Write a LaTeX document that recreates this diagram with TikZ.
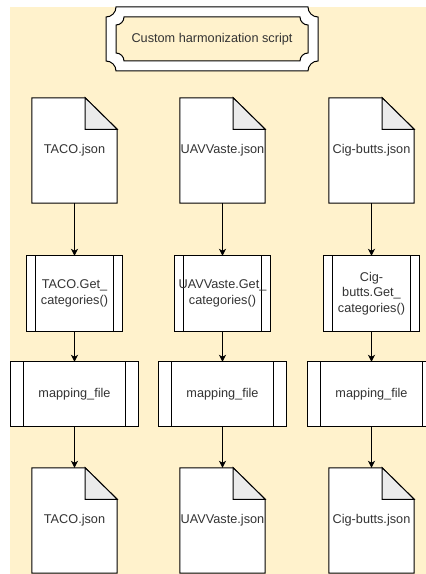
\documentclass[tikz,border=0pt]{standalone}
\usepackage{fontspec}
\setmainfont{Liberation Sans}
\usetikzlibrary{arrows.meta}
\definecolor{cream}{HTML}{FFF2CC}
\definecolor{foldgray}{HTML}{EBEBEB}
\definecolor{txt}{HTML}{333333}
\pgfdeclarelayer{bgfill}
\pgfdeclarelayer{shapes}
\pgfsetlayers{bgfill,shapes,main}

\tikzset{
  base/.style={font=\fontsize{12.7}{15.5}\selectfont, text=txt, align=center, inner sep=0pt},
  docnode/.style={base, minimum width=85pt, minimum height=105pt},
  procnode/.style={base, minimum width=96pt, minimum height=75pt},
  mapnode/.style={base, minimum width=127pt, minimum height=64pt},
  outline/.style={draw=black, line width=1pt},
  flow/.style={outline, -{Stealth[length=7pt,width=7pt,inset=2pt]}},
}

% document sheet with a folded top-right corner
\newcommand\docsheet[1]{%
  \filldraw[outline, fill=white] (#1.north west) -- ([xshift=-32pt]#1.north east)
    -- ([yshift=-31.5pt]#1.north east) -- (#1.south east) -- (#1.south west) -- cycle;
  \filldraw[outline, fill=foldgray] ([xshift=-32pt]#1.north east)
    -- ([xshift=-32pt,yshift=-31.5pt]#1.north east) -- ([yshift=-31.5pt]#1.north east) -- cycle;}

% predefined-process box with two side bars
\newcommand\procbox[2]{%
  \filldraw[outline, fill=white] (#1.south west) rectangle (#1.north east);
  \draw[outline] ([xshift=#2]#1.south west) -- ([xshift=#2]#1.north west);
  \draw[outline] ([xshift=-#2]#1.south east) -- ([xshift=-#2]#1.north east);}

\begin{document}
\begin{tikzpicture}[x=1pt,y=1pt]
\useasboundingbox (0,0) rectangle (426,574);

% title plaque
\node[base] (title) at (212,535) {Custom harmonization script};

% input files
\node[docnode] (src1) at (74.5,423.5) {TACO.json};
\node[docnode] (src2) at (222.5,423.5) {UAVVaste.json};
\node[docnode] (src3) at (371.5,423.5) {Cig-butts.json};

% category readers
\node[procnode] (get1) at (74.5,280.5) {TACO.Get\_\\categories()};
\node[procnode] (get2) at (222.5,280.5) {UAVVaste.Get\_\\categories()};
\node[procnode] (get3) at (371.5,280.5) {Cig-\\butts.Get\_\\categories()};

% mapping steps
\node[mapnode] (map1) at (74.5,180) {mapping\_file};
\node[mapnode] (map2) at (222.5,180) {mapping\_file};
\node[mapnode] (map3) at (371.5,180) {mapping\_file};

% output files
\node[docnode] (out1) at (74.5,53.5) {TACO.json};
\node[docnode] (out2) at (222.5,53.5) {UAVVaste.json};
\node[docnode] (out3) at (371.5,53.5) {Cig-butts.json};

\begin{pgfonlayer}{bgfill}
  \fill[cream] (10,0) rectangle (426,567);
\end{pgfonlayer}

\begin{pgfonlayer}{shapes}
  \clip (0,0) rectangle (426,574);
  % plaque: outer white frame and inner cream panel with concave corners
  \filldraw[outline, fill=white] (116,567) -- (308,567) arc[start angle=180, end angle=270, radius=10]
    -- (318,513) arc[start angle=90, end angle=180, radius=10]
    -- (116,503) arc[start angle=0, end angle=90, radius=10]
    -- (106,557) arc[start angle=270, end angle=360, radius=10] -- cycle;
  \filldraw[outline, fill=cream] (124,557) -- (300,557) arc[start angle=180, end angle=270, radius=8]
    -- (308,521) arc[start angle=90, end angle=180, radius=8]
    -- (124,513) arc[start angle=0, end angle=90, radius=8]
    -- (116,549) arc[start angle=270, end angle=360, radius=8] -- cycle;
  \foreach \n in {src1,src2,src3,out1,out2,out3} {\docsheet{\n}}
  \foreach \n in {get1,get2,get3} {\procbox{\n}{9.6pt}}
  \foreach \n in {map1,map2,map3} {\procbox{\n}{12.5pt}}
\end{pgfonlayer}

% connectors
\foreach \i in {1,2,3} {
  \draw[flow] (src\i) -- (get\i);
  \draw[flow] (get\i) -- (map\i);
  \draw[flow] (map\i) -- (out\i);
}
\end{tikzpicture}
\end{document}
